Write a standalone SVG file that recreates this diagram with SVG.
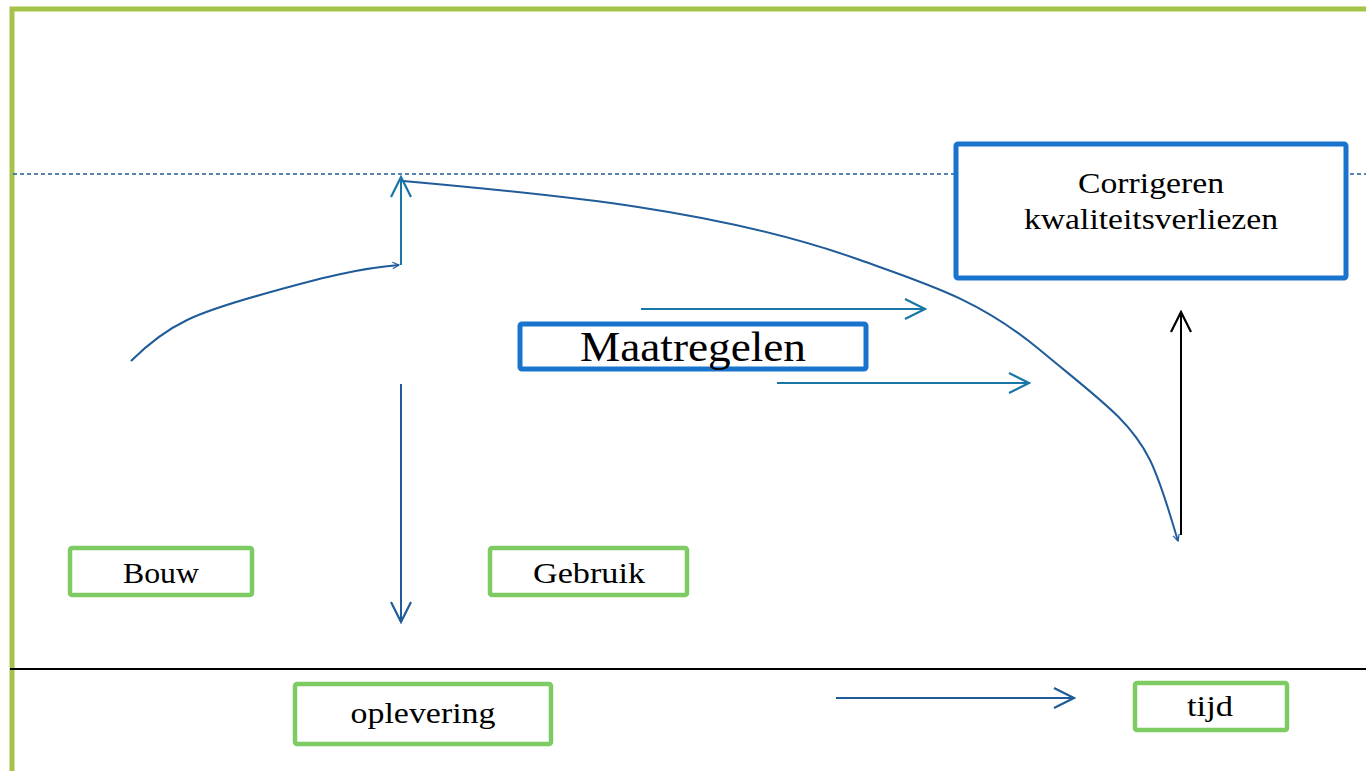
<svg xmlns="http://www.w3.org/2000/svg" width="1366" height="771" viewBox="0 0 1366 771">
<defs>
<marker id="openT" viewBox="0 0 24 24" refX="22" refY="12" markerWidth="24" markerHeight="24" markerUnits="userSpaceOnUse" orient="auto">
<path d="M2,2 L22,12 L2,22" fill="none" stroke="#1A76A6" stroke-width="2.2"/>
</marker>
<marker id="openB" viewBox="0 0 24 24" refX="22" refY="12" markerWidth="24" markerHeight="24" markerUnits="userSpaceOnUse" orient="auto">
<path d="M2,2 L22,12 L2,22" fill="none" stroke="#1F5C99" stroke-width="2.2"/>
</marker>
<marker id="openK" viewBox="0 0 24 24" refX="22" refY="12" markerWidth="24" markerHeight="24" markerUnits="userSpaceOnUse" orient="auto">
<path d="M2,2 L22,12 L2,22" fill="none" stroke="#000" stroke-width="2.2"/>
</marker>
<marker id="small" viewBox="0 0 10 10" refX="9" refY="5" markerWidth="8" markerHeight="8" markerUnits="userSpaceOnUse" orient="auto">
<path d="M1,1 L9,5 L1,9" fill="none" stroke="#1F5C99" stroke-width="1.5"/>
</marker>
</defs>
<style>
.blue{fill:#fff;stroke:#1874CC;stroke-width:5}
.green{fill:#fff;stroke:#7DCB62;stroke-width:4.5}
.t{font-family:"Liberation Serif","DejaVu Serif",serif;fill:#000;text-anchor:middle}
.c{fill:none;stroke-width:2}
</style>
<rect x="0" y="0" width="1366" height="771" fill="#fff"/>
<path d="M12,771 L12,9 L1366,9" fill="none" stroke="#A5C249" stroke-width="5"/>
<line x1="13" y1="174" x2="1366" y2="174" stroke="#1F5C99" stroke-width="1.6" stroke-dasharray="4,3"/>
<line x1="10" y1="669" x2="1366" y2="669" stroke="#000" stroke-width="1.8"/>
<g id="connectors">
<path class="c" d="M131,361 C170,322 200,312 260,295 C320,278 360,268 399,265" stroke="#1F5C99" marker-end="url(#small)"/>
<line class="c" x1="401" y1="265" x2="401" y2="177" stroke="#1A76A6" marker-end="url(#openT)"/>
<path class="c" d="M403,181 C560,195 720,210 860,260 C930,285 980,300 1040,350 C1100,400 1130,420 1150,460 C1162,485 1170,515 1178,541" stroke="#1F5C99" marker-end="url(#small)"/>
<line class="c" x1="641" y1="309" x2="925" y2="309" stroke="#1A76A6" marker-end="url(#openT)"/>
<line class="c" x1="777" y1="383" x2="1029" y2="383" stroke="#1A76A6" marker-end="url(#openT)"/>
<line class="c" x1="401" y1="384" x2="401" y2="622" stroke="#1F5C99" marker-end="url(#openB)"/>
<line class="c" x1="1181" y1="535" x2="1181" y2="312" stroke="#000" marker-end="url(#openK)"/>
<line class="c" x1="836" y1="698" x2="1074" y2="698" stroke="#1F5C99" marker-end="url(#openB)"/>
</g>
<g id="corrigeren">
<rect class="blue" x="956" y="144" width="390" height="134" rx="2"/>
<text class="t" x="1151" y="193" font-size="29" textLength="146" lengthAdjust="spacingAndGlyphs">Corrigeren</text>
<text class="t" x="1151" y="229" font-size="29" textLength="254" lengthAdjust="spacingAndGlyphs">kwaliteitsverliezen</text>
</g>
<g id="maatregelen">
<rect class="blue" x="520" y="324" width="346" height="45" rx="2"/>
<text class="t" x="693" y="361" font-size="42" textLength="226" lengthAdjust="spacingAndGlyphs">Maatregelen</text>
</g>
<g id="bouw">
<rect class="green" x="70" y="548" width="182" height="47" rx="2"/>
<text class="t" x="161" y="583" font-size="29" textLength="76" lengthAdjust="spacingAndGlyphs">Bouw</text>
</g>
<g id="gebruik">
<rect class="green" x="490" y="548" width="197" height="47" rx="2"/>
<text class="t" x="589" y="583" font-size="29" textLength="112" lengthAdjust="spacingAndGlyphs">Gebruik</text>
</g>
<g id="oplevering">
<rect class="green" x="295" y="684" width="256" height="60" rx="2"/>
<text class="t" x="423" y="723" font-size="29" textLength="145" lengthAdjust="spacingAndGlyphs">oplevering</text>
</g>
<g id="tijd">
<rect class="green" x="1135" y="683" width="152" height="47" rx="2"/>
<text class="t" x="1210" y="716" font-size="29" textLength="46" lengthAdjust="spacingAndGlyphs">tijd</text>
</g>
</svg>
